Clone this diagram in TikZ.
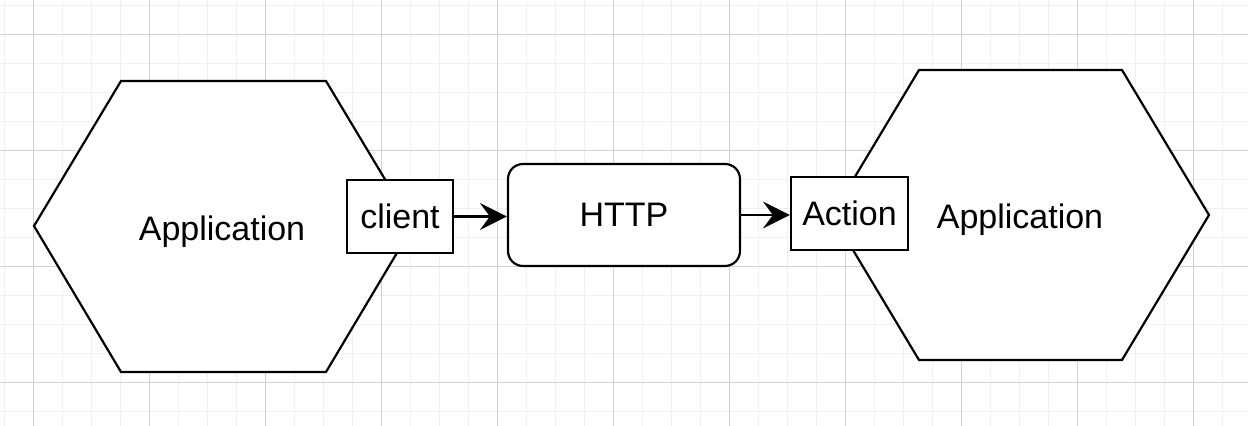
\documentclass[tikz,border=0pt]{standalone}
\usepackage{fontspec}
\setmainfont{Liberation Sans}
\usetikzlibrary{arrows.meta}

\begin{document}
\begin{tikzpicture}[
    x=0.5pt, y=-0.5pt,
    minor/.style={draw=black!6, line width=0.5pt},
    major/.style={draw=black!18, line width=0.5pt},
    hexa/.style={draw, fill=white, line width=1.1pt, line join=miter},
    port/.style={draw, fill=white, line width=1.1pt, inner sep=0pt, font=\fontsize{17}{20}\selectfont},
    lbl/.style={font=\fontsize{17}{20}\selectfont},
    link/.style={-{Stealth[length=13.5pt, width=13.5pt, inset=5pt]}, line width=1.1pt},
    ]
    \useasboundingbox (0,0) rectangle (1248,426);
    \fill[white] (0,0) rectangle (1248,426);
    \foreach \g in {4.3,33.3,...,1248} \draw[minor] (\g,0) -- (\g,426);
    \foreach \g in {5.3,34.3,...,426} \draw[minor] (0,\g) -- (1248,\g);
    \foreach \g in {33.3,149.3,...,1248} \draw[major] (\g,0) -- (\g,426);
    \foreach \g in {34.3,150.3,...,426} \draw[major] (0,\g) -- (1248,\g);
    \draw[hexa] (34,226) -- (121,81) -- (326,81) -- (413,226) -- (326,372) -- (121,372) -- cycle;
    \draw[hexa] (832,215) -- (919,70) -- (1122,70) -- (1209,215) -- (1122,360) -- (919,360) -- cycle;
    \node[lbl] (appleft) at (222,232) {Application};
    \node[lbl] (appright) at (1020,220) {Application};
    \node[port, minimum width=53pt, minimum height=36.5pt] (client) at (400,216.5) {client};
    \node[port, rounded corners=7.5pt, minimum width=116pt, minimum height=51pt] (http) at (624,215) {HTTP};
    \node[port, minimum width=58.5pt, minimum height=36.5pt] (action) at (849.5,213.5) {Action};
    \draw[link] (client.east) -- (http.west |- client.east);
    \draw[link] (http.east) -- (action.west |- http.east);
\end{tikzpicture}
\end{document}
